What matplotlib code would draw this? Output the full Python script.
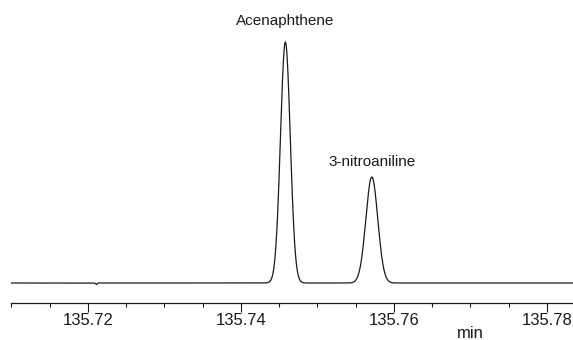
import numpy as np
import matplotlib
matplotlib.use("Agg")
import matplotlib.pyplot as plt
from matplotlib.ticker import MultipleLocator, FormatStrFormatter

plt.rcParams['font.family'] = ['Liberation Sans', 'DejaVu Sans']

# picos del cromatograma (tiempo de retencion, altura, anchura sigma)
peak_names = ["Acenaphthene", "3-nitroaniline"]
peak_times = [135.7458, 135.7571]
peak_heights = [241.0, 106.0]
peak_sigmas = [0.00064, 0.00078]

# pequeña muesca en la linea base
dip_time = 135.7211
dip_height = -1.5
dip_sigma = 0.00010

t_start = 135.71
t_end = 135.7834

t = np.linspace(t_start, t_end, 4000)
signal = np.zeros_like(t)
for tr, h, s in zip(peak_times, peak_heights, peak_sigmas):
    signal += h * np.exp(-0.5 * ((t - tr) / s) ** 2)
signal += dip_height * np.exp(-0.5 * ((t - dip_time) / dip_sigma) ** 2)

fig = plt.figure(figsize=(5.73, 3.40), dpi=100)
ax = fig.add_axes([0.0, 37 / 340, 1.0, 303 / 340])

ax.plot(t, signal, color="#1a1a1a", lw=0.9)

ax.set_xlim(135.708497, 135.783399)
ax.set_ylim(-20, 283)

for side in ["top", "left", "right"]:
    ax.spines[side].set_visible(False)
ax.spines["bottom"].set_bounds(t_start, t_end)
ax.spines["bottom"].set_linewidth(0.9)
ax.spines["bottom"].set_color("#1a1a1a")

ax.xaxis.set_major_locator(MultipleLocator(0.02))
ax.xaxis.set_minor_locator(MultipleLocator(0.005))
ax.xaxis.set_major_formatter(FormatStrFormatter("%.2f"))
ax.tick_params(axis="x", which="major", length=6.5, width=0.8, pad=0.5,
               labelsize=12, colors="#1a1a1a")
ax.tick_params(axis="x", which="minor", length=3, width=0.8, colors="#1a1a1a")
ax.set_yticks([])

# etiquetas de los picos
label_y = [262.5, 121.0]
for name, tr, ly in zip(peak_names, peak_times, label_y):
    ax.text(tr, ly, name, ha="center", va="center", fontsize=11, color="#1a1a1a")

fig.text(470 / 573, 6 / 340, "min", ha="center", va="center", fontsize=12, color="#1a1a1a")

fig.savefig("out.png", dpi=100)
